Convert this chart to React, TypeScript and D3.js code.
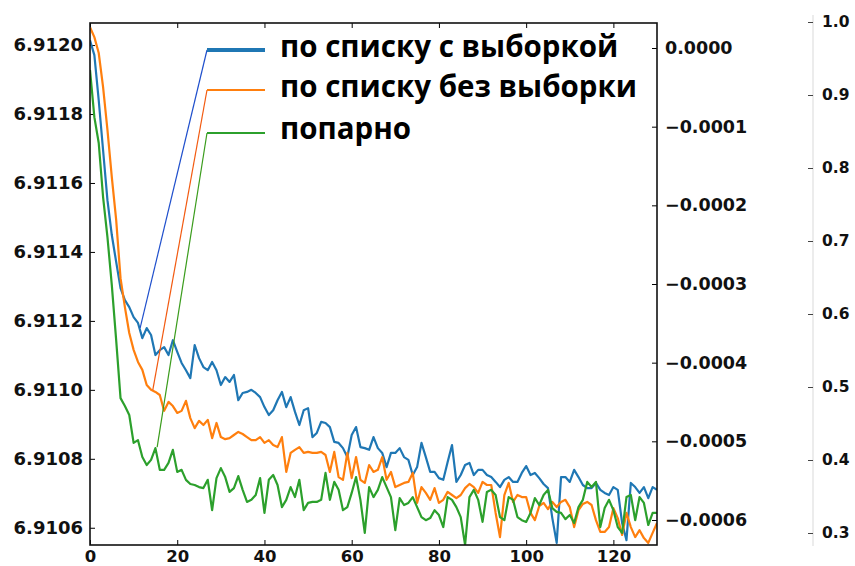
import React, { useRef, useEffect } from "react"
import * as d3 from "d3"

const seriesNames = ["по списку с выборкой", "по списку без выборки", "попарно"]
const seriesColors = ["#1f77b4", "#ff7f0e", "#2ca02c"]
const pointerColors = ["#1f4fcc", "#f25a10", "#3a9c1c"]

// loss per iteration
const blueValues = [
  6.912014, 6.911971, 6.91184, 6.911695, 6.91155, 6.911449, 6.911371, 6.911295, 6.91126, 6.91124,
  6.911211, 6.911194, 6.91115, 6.911179, 6.911159, 6.911101, 6.911115, 6.911124, 6.911101, 6.911144,
  6.91111, 6.911078, 6.911057, 6.911034, 6.91113, 6.911092, 6.911066, 6.911057, 6.911081, 6.911057,
  6.911014, 6.911037, 6.911023, 6.911043, 6.91097, 6.910991, 6.910994, 6.911, 6.910991, 6.910979,
  6.91095, 6.910927, 6.910941, 6.91097, 6.910994, 6.91095, 6.910979, 6.910936, 6.910898, 6.910941,
  6.910947, 6.910863, 6.910875, 6.910907, 6.910904, 6.910892, 6.910849, 6.910846, 6.910831, 6.910805,
  6.910869, 6.910892, 6.910834, 6.910831, 6.910826, 6.910863, 6.910831, 6.910817, 6.910776, 6.910817,
  6.910817, 6.910831, 6.910805, 6.910797, 6.910753, 6.910776, 6.910846, 6.910805, 6.910762, 6.910762,
  6.910744, 6.910739, 6.910791, 6.91084, 6.910733, 6.910753, 6.910782, 6.910788, 6.910753, 6.910768,
  6.910768, 6.910753, 6.910747, 6.910733, 6.910718, 6.910739, 6.910747, 6.910733, 6.910733, 6.910759,
  6.910779, 6.910753, 6.910759, 6.910744, 6.910727, 6.910715, 6.910628, 6.910556, 6.910747, 6.910747,
  6.910733, 6.910768, 6.910747, 6.910724, 6.910715, 6.910715, 6.91073, 6.91071, 6.910701, 6.910695,
  6.910718, 6.91071, 6.910614, 6.910564, 6.91073, 6.910718, 6.910701, 6.910718, 6.910686, 6.910718, 6.91071,
]
const orangeValues = [
  6.912052, 6.912023, 6.911977, 6.911878, 6.911754, 6.911617, 6.911493, 6.911324, 6.91124, 6.911165,
  6.911116, 6.911081, 6.911058, 6.911014, 6.911, 6.910994, 6.910985, 6.910939, 6.910965, 6.910953,
  6.910933, 6.910939, 6.910968, 6.910918, 6.910889, 6.91091, 6.910898, 6.910913, 6.91086, 6.910904,
  6.910863, 6.910857, 6.91086, 6.910869, 6.910878, 6.910872, 6.910863, 6.910854, 6.910854, 6.910863,
  6.910846, 6.910854, 6.91084, 6.910834, 6.910863, 6.910762, 6.910817, 6.910826, 6.910834, 6.910817,
  6.91082, 6.910817, 6.910817, 6.91082, 6.910811, 6.910762, 6.91082, 6.910747, 6.910739, 6.910817,
  6.910744, 6.910805, 6.910739, 6.91073, 6.910782, 6.910762, 6.910768, 6.910805, 6.910739, 6.910762,
  6.910718, 6.910724, 6.91073, 6.910733, 6.910759, 6.910672, 6.910718, 6.910701, 6.910681, 6.910715,
  6.910672, 6.910681, 6.910704, 6.910695, 6.910686, 6.910695, 6.910715, 6.910727, 6.910718, 6.910701,
  6.910733, 6.910724, 6.910724, 6.910643, 6.910573, 6.910695, 6.91073, 6.910675, 6.910695, 6.910689,
  6.910689, 6.910643, 6.910622, 6.910663, 6.910672, 6.910654, 6.910675, 6.91066, 6.910675, 6.910681,
  6.91066, 6.910602, 6.910651, 6.910669, 6.910675, 6.910666, 6.910622, 6.910588, 6.910588, 6.910602,
  6.910657, 6.910628, 6.910579, 6.910643, 6.910602, 6.910573, 6.910593, 6.91057, 6.910556, 6.910585, 6.910614,
]
const greenValues = [
  6.911928, 6.911791, 6.911716, 6.911559, 6.911443, 6.911304, 6.911144, 6.910976, 6.910953, 6.910927,
  6.910846, 6.910854, 6.910805, 6.910782, 6.910797, 6.910831, 6.910768, 6.910768, 6.910788, 6.910826,
  6.910762, 6.910768, 6.910739, 6.910727, 6.910724, 6.910718, 6.910715, 6.910739, 6.910651, 6.910744,
  6.910773, 6.910747, 6.910704, 6.910715, 6.91075, 6.91071, 6.910675, 6.910681, 6.910695, 6.910744,
  6.910643, 6.910739, 6.910753, 6.910724, 6.91066, 6.910681, 6.910718, 6.910689, 6.910739, 6.910651,
  6.910672, 6.910675, 6.910675, 6.910681, 6.910759, 6.910681, 6.910733, 6.91071, 6.910651, 6.91066,
  6.910701, 6.910747, 6.910681, 6.910585, 6.910718, 6.910689, 6.91071, 6.910747, 6.910718, 6.910689,
  6.910593, 6.910686, 6.910666, 6.910672, 6.910689, 6.91066, 6.910631, 6.910622, 6.910628, 6.910651,
  6.910637, 6.910602, 6.910689, 6.910681, 6.91066, 6.910631, 6.91055, 6.910689, 6.91071, 6.910681,
  6.910617, 6.910704, 6.91071, 6.910695, 6.910631, 6.910622, 6.910689, 6.910681, 6.910631, 6.910622,
  6.910617, 6.910643, 6.910686, 6.910666, 6.910695, 6.91071, 6.910657, 6.910646, 6.910643, 6.910625,
  6.910637, 6.910614, 6.91066, 6.910681, 6.910733, 6.910718, 6.910733, 6.910602, 6.910657, 6.910681,
  6.910651, 6.910602, 6.910585, 6.910689, 6.910695, 6.910622, 6.910689, 6.910672, 6.910608, 6.910643, 6.910643,
]

const xTicks = [0, 20, 40, 60, 80, 100, 120]
const leftTicks = [6.9106, 6.9108, 6.911, 6.9112, 6.9114, 6.9116, 6.9118, 6.912]
const rightTicks = [0, -0.0001, -0.0002, -0.0003, -0.0004, -0.0005, -0.0006]
const farTicks = [0.3, 0.4, 0.5, 0.6, 0.7, 0.8, 0.9, 1.0]

// where each legend pointer line lands on its curve (iteration, value)
const pointerX = [11.5, 14.4, 15.4]
const pointerY = [6.91118, 6.911, 6.910834]

const W = 855
const H = 566
const plot = { left: 90, right: 657, top: 23, bottom: 545 }
const numFont = "'DejaVu Sans', sans-serif"

function Chart() {
  const ref = useRef<SVGSVGElement>(null)

  useEffect(() => {
    const svg = d3.select(ref.current)
    svg.selectAll("*").remove()

    const x = d3.scaleLinear().domain([0, 130]).range([plot.left, plot.right])
    const yLeft = d3.scaleLinear().domain([6.91055, 6.912064]).range([plot.bottom, plot.top])
    const yRight = d3.scaleLinear().domain([-0.0006318, 0.0000318]).range([plot.bottom, plot.top])
    const yFar = d3.scaleLinear().domain([0.3, 1.0]).range([533, 22])

    svg
      .append("clipPath")
      .attr("id", "plot-clip")
      .append("rect")
      .attr("x", plot.left)
      .attr("y", plot.top)
      .attr("width", plot.right - plot.left)
      .attr("height", plot.bottom - plot.top)

    const styleAxis = (g, size) => {
      g.attr("font-family", numFont)
        .attr("font-size", size)
        .attr("font-weight", "bold")
      g.select(".domain").remove()
      g.selectAll("text").attr("fill", "#111")
    }

    // bottom / top x axis, ticks pointing in
    svg
      .append("g")
      .attr("transform", `translate(0,${plot.bottom})`)
      .call(d3.axisBottom(x).tickValues(xTicks).tickSize(-5).tickSizeOuter(0).tickPadding(5))
      .call(g => styleAxis(g, 16.5))
    svg
      .append("g")
      .attr("transform", `translate(0,${plot.top})`)
      .call(d3.axisTop(x).tickValues(xTicks).tickSize(-5).tickSizeOuter(0).tickFormat(() => ""))
      .call(g => styleAxis(g, 16.5))

    svg
      .append("g")
      .attr("transform", `translate(${plot.left},0)`)
      .call(
        d3.axisLeft(yLeft).tickValues(leftTicks).tickSize(-5).tickSizeOuter(0)
          .tickPadding(7).tickFormat(d3.format(".4f"))
      )
      .call(g => styleAxis(g, 18))

    svg
      .append("g")
      .attr("transform", `translate(${plot.right},0)`)
      .call(
        d3.axisRight(yRight).tickValues(rightTicks).tickSize(-5).tickSizeOuter(0)
          .tickPadding(8).tickFormat(d3.format(".4f"))
      )
      .call(g => styleAxis(g, 17.5))

    // outer axis on the far right
    svg
      .append("line")
      .attr("x1", 813)
      .attr("x2", 813)
      .attr("y1", 15)
      .attr("y2", 546)
      .attr("stroke", "#e6e6e6")
      .attr("stroke-width", 1.5)
    svg
      .append("g")
      .attr("transform", "translate(813,0)")
      .call(
        d3.axisRight(yFar).tickValues(farTicks).tickSize(-5).tickSizeOuter(0)
          .tickPadding(9).tickFormat(d3.format(".1f"))
      )
      .call(g => styleAxis(g, 15.5))
      .call(g => g.selectAll(".tick line").attr("stroke", "#444"))

    const line = d3
      .line<number>()
      .x((d, i) => x(i))
      .y(d => yLeft(d))

    const lines = svg.append("g").attr("clip-path", "url(#plot-clip)")
    ;[blueValues, orangeValues, greenValues].forEach((vals, k) => {
      lines
        .append("path")
        .attr("d", line(vals))
        .attr("fill", "none")
        .attr("stroke", seriesColors[k])
        .attr("stroke-width", 2.2)
        .attr("stroke-linejoin", "round")
    })

    // frame
    svg
      .append("rect")
      .attr("x", plot.left)
      .attr("y", plot.top)
      .attr("width", plot.right - plot.left)
      .attr("height", plot.bottom - plot.top)
      .attr("fill", "none")
      .attr("stroke", "#111")
      .attr("stroke-width", 1.6)

    // legend with pointer lines
    const legendY = [50, 90, 133]
    const textY = [57, 97, 139]
    const legendX0 = 207
    const legendX1 = 265
    seriesNames.forEach((name, k) => {
      svg
        .append("line")
        .attr("x1", legendX0)
        .attr("y1", legendY[k])
        .attr("x2", x(pointerX[k]))
        .attr("y2", yLeft(pointerY[k]))
        .attr("stroke", pointerColors[k])
        .attr("stroke-width", 1.2)
      svg
        .append("line")
        .attr("x1", legendX0)
        .attr("x2", legendX1)
        .attr("y1", legendY[k])
        .attr("y2", legendY[k])
        .attr("stroke", seriesColors[k])
        .attr("stroke-width", k === 0 ? 4 : 2)
      svg
        .append("text")
        .attr("x", 280)
        .attr("y", textY[k])
        .attr("font-family", "'Open Sans', sans-serif")
        .attr("font-weight", 700)
        .attr("font-size", 29.5)
        .attr("fill", "#000")
        .text(name)
    })
  }, [])

  return <svg ref={ref} width={W} height={H} style={{ display: "block" }}></svg>
}

export default function App() {
  return (
    <div style={{ position: "absolute", left: 0, top: 0, background: "#fff" }}>
      <Chart />
    </div>
  )
}
